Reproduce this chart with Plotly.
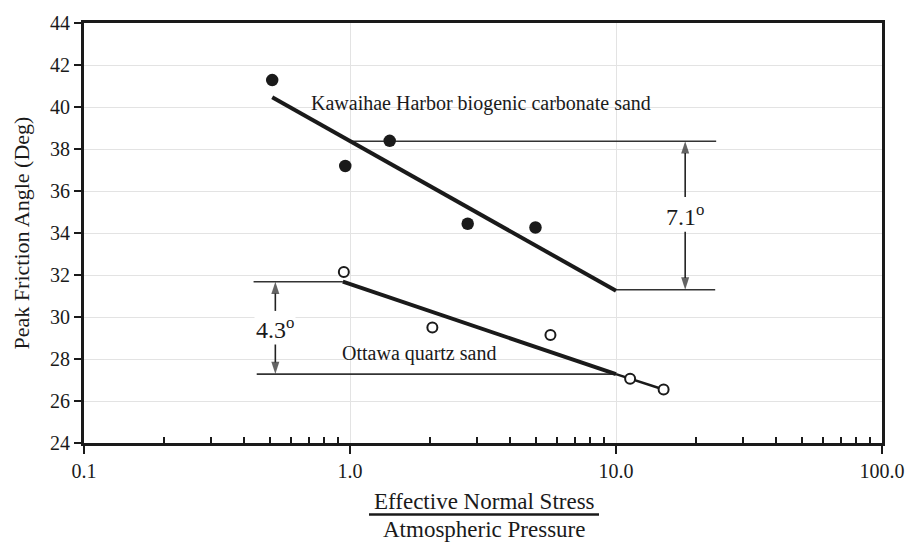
import numpy as np
import plotly.graph_objects as go

# ---- data ----
kaw_x = [0.51, 0.96, 1.41, 2.77, 4.98]
kaw_y = [41.28, 37.19, 38.39, 34.44, 34.26]
ott_x = [0.948, 2.04, 5.67, 11.3, 15.1]
ott_y = [32.14, 29.50, 29.14, 27.06, 26.55]

kaw_fit_x = [0.51, 10.0]
kaw_fit_y = [40.46, 31.25]
ott_fit_x = [0.94, 10.0]
ott_fit_y = [31.68, 27.28]
ott_ext_x = [10.0, 15.1]
ott_ext_y = [27.28, 26.55]

# dimension (reference) lines
kaw_top_x, kaw_top_y = [1.0, 23.8], [38.37, 38.37]
kaw_bot_x, kaw_bot_y = [10.0, 23.6], [31.30, 31.30]
ott_top_x, ott_top_y = [0.434, 0.94], [31.68, 31.68]
ott_bot_x, ott_bot_y = [0.446, 10.0], [27.28, 27.28]

kaw_arrow_x = 18.2
kaw_arrow_tails = [35.72, 34.07]
kaw_arrow_heads = [38.37, 31.30]
ott_arrow_x = 0.524
ott_arrow_tails = [30.29, 28.72]
ott_arrow_heads = [31.68, 27.28]

x_tickvals = [0.1, 1, 10, 100]
x_ticktext = ["0.1", "1.0", "10.0", "100.0"]
y_tickvals = list(range(24, 45, 2))

FONT = "Liberation Serif"
INK = "#1a1a1a"

fig = go.Figure()

def line(x, y, w, color=INK):
    fig.add_trace(go.Scatter(x=x, y=y, mode="lines",
                             line=dict(color=color, width=w),
                             hoverinfo="skip", showlegend=False))

def arrow(x, tail, head):
    fig.add_trace(go.Scatter(x=[x, x], y=[tail, head], mode="lines+markers",
                             line=dict(color="#222222", width=1.6),
                             marker=dict(symbol="arrow", size=[0, 13],
                                         angleref="previous", color="#222222",
                                         line=dict(width=0)),
                             hoverinfo="skip", showlegend=False))

# thin dimension lines
for xs, ys in [(kaw_top_x, kaw_top_y), (kaw_bot_x, kaw_bot_y),
               (ott_top_x, ott_top_y), (ott_bot_x, ott_bot_y)]:
    line(xs, ys, 1.6, "#333333")

for t, h in zip(kaw_arrow_tails, kaw_arrow_heads):
    arrow(kaw_arrow_x, t, h)
for t, h in zip(ott_arrow_tails, ott_arrow_heads):
    arrow(ott_arrow_x, t, h)

# fit lines
line(kaw_fit_x, kaw_fit_y, 4)
line(ott_fit_x, ott_fit_y, 4)
line(ott_ext_x, ott_ext_y, 2.5)

# data markers
fig.add_trace(go.Scatter(x=kaw_x, y=kaw_y, mode="markers",
                         marker=dict(size=12.5, color=INK, line=dict(width=0)),
                         showlegend=False))
fig.add_trace(go.Scatter(x=ott_x, y=ott_y, mode="markers",
                         marker=dict(size=10, color="white",
                                     line=dict(width=2, color=INK)),
                         showlegend=False))

ann = []
# labels
ann.append(dict(x=np.log10(3.12), y=40.18, text="Kawaihae Harbor biogenic carbonate sand",
                showarrow=False, font=dict(family=FONT, size=20, color=INK)))
ann.append(dict(x=np.log10(1.82), y=28.26, text="Ottawa quartz sand",
                showarrow=False, font=dict(family=FONT, size=20, color=INK)))
ann.append(dict(x=np.log10(kaw_arrow_x), y=34.86, text="7.1<sup>o</sup>",
                showarrow=False, bgcolor="white",
                font=dict(family=FONT, size=24, color=INK)))
ann.append(dict(x=np.log10(ott_arrow_x), y=29.5, text="4.3<sup>o</sup>",
                showarrow=False, bgcolor="white",
                font=dict(family=FONT, size=24, color=INK)))

# x-axis title as a fraction
ann.append(dict(xref="paper", yref="paper", x=(484 - 84) / 798, y=(443 - 503) / 429,
                xanchor="center", yanchor="middle",
                text="Effective Normal Stress", showarrow=False,
                font=dict(family=FONT, size=23, color=INK)))
ann.append(dict(xref="paper", yref="paper", x=(484 - 84) / 798, y=(443 - 531) / 429,
                xanchor="center", yanchor="middle",
                text="Atmospheric Pressure", showarrow=False,
                font=dict(family=FONT, size=23, color=INK)))

fig.add_shape(type="line", xref="paper", yref="paper",
              x0=(369 - 84) / 798, x1=(599 - 84) / 798,
              y0=(443 - 516) / 429, y1=(443 - 516) / 429,
              line=dict(color=INK, width=2.5))

minor_vals = [m * d for d in [0.1, 1, 10] for m in range(2, 10)]

fig.update_layout(
    width=917, height=542,
    margin=dict(l=84, r=35, t=14, b=99),
    paper_bgcolor="white", plot_bgcolor="white",
    font=dict(family=FONT, size=20, color=INK),
    annotations=ann,
    xaxis=dict(type="log", range=[-1, 2],
               tickmode="array", tickvals=x_tickvals, ticktext=x_ticktext,
               ticks="outside", ticklen=8, tickwidth=2, tickcolor=INK,
               showline=True, linewidth=3, linecolor=INK, mirror=True,
               showgrid=True, gridcolor="#e3e3e3", gridwidth=1,
               zeroline=False,
               tickfont=dict(family=FONT, size=20, color=INK),
               minor=dict(tickmode="array", tickvals=minor_vals,
                          ticks="inside", ticklen=6, tickwidth=2,
                          tickcolor=INK, showgrid=False)),
    yaxis=dict(range=[24, 44], tickmode="array", tickvals=y_tickvals,
               ticks="outside", ticklen=7, tickwidth=2, tickcolor=INK,
               showline=True, linewidth=3, linecolor=INK, mirror=True,
               showgrid=True, gridcolor="#e3e3e3", gridwidth=1,
               zeroline=False,
               tickfont=dict(family=FONT, size=20, color=INK),
               title=dict(text="Peak Friction Angle (Deg)", standoff=15,
                          font=dict(family=FONT, size=22, color=INK))),
)

fig.write_html("out.html")
